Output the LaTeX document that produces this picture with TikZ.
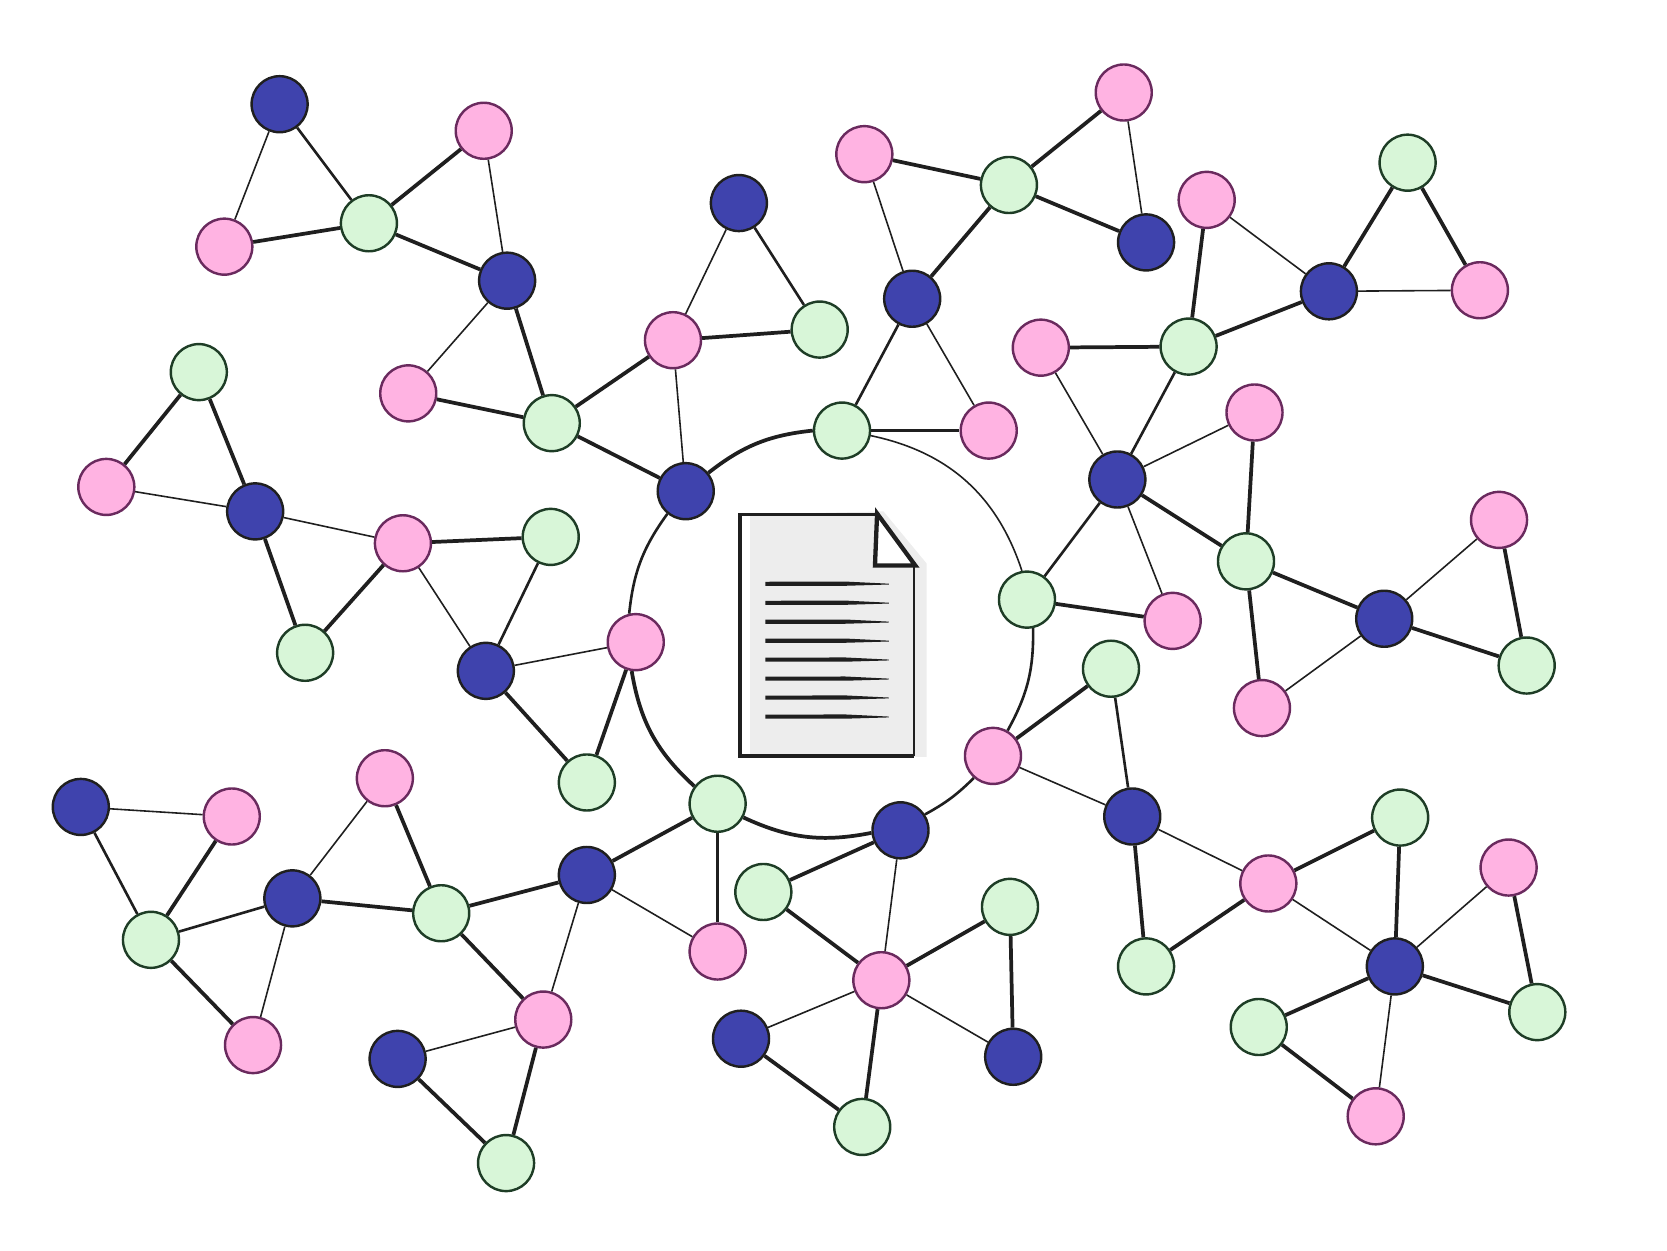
\documentclass[tikz,border=0pt]{standalone}
\definecolor{nodeblue}{HTML}{3F43AD}
\definecolor{nodepink}{HTML}{FFB3E2}
\definecolor{nodegreen}{HTML}{D8F6D8}
\definecolor{rimpink}{HTML}{6A2A5E}
\definecolor{rimgreen}{HTML}{1E3D26}
\definecolor{ink}{HTML}{1F1F1F}
\definecolor{paper}{HTML}{EDEDED}
\tikzset{
	dot/.style={circle,inner sep=0pt,minimum size=30pt,line width=1.3pt},
	blue dot/.style={dot,draw=ink,fill=nodeblue},
	pink dot/.style={dot,draw=rimpink,fill=nodepink},
	green dot/.style={dot,draw=rimgreen,fill=nodegreen},
	fine/.style={draw=ink,line width=0.85pt},
	mid/.style={draw=ink,line width=1.4pt},
	heavy/.style={draw=ink,line width=2pt},
}
\begin{document}
\begin{tikzpicture}[x=0.02cm,y=-0.02cm]
	\useasboundingbox (0,0) rectangle (1568,1176.7);
	% the three kinds of vertices
	\foreach \a/\x/\y in {1/263/98,2/477/264,3/695/191,4/645/462,5/240/481,6/457/631,7/858/281,8/1078/228,9/1250/274,10/1051/451,11/1302/582,12/1065/768,13/847/781,14/1312/909,15/953/994,16/697/977,17/552/823,18/275/845,19/76/759,20/374/996}{
			\node[blue dot] (b\a) at (\x,\y) {};
		}
	\foreach \a/\x/\y in {1/455/123,2/211/232,3/384/370,4/633/320,5/100/458,6/379/511,7/598/604,8/813/145,9/1057/87,10/930/405,11/1135/188,12/1392/273,13/979/327,14/1180/388,15/1103/584,16/1410/489,17/1187/666,18/934/711,19/1193/831,20/1419/816,21/1294/1050,22/829/922,23/675/895,24/362/732,25/218/768,26/238/983,27/511/959}{
			\node[pink dot] (p\a) at (\x,\y) {};
		}
	\foreach \a/\x/\y in {1/347/210,2/519/398,3/771/310,4/187/350,5/518/505,6/287/614,7/552/736,8/949/174,9/792/405,10/1324/153,11/1118/326,12/1172/528,13/966/564,14/1436/626,15/1045/629,16/1078/909,17/1317/769,18/1446/952,19/1184/966,20/675/756,21/718/839,22/950/853,23/811/1060,24/415/859,25/142/884,26/476/1094}{
			\node[green dot] (g\a) at (\x,\y) {};
		}
	% edges
	\foreach \a/\b in {b1/p2,p1/b2,b2/p3,p4/b4,p4/b3,p5/b5,b5/p6,p6/b6,b6/p7,p8/b7,p9/b8,b7/p10,p11/b9,b9/p12,p13/b10,b10/p14,b10/p15,p17/b11,b11/p16,p18/b12,b12/p19,p19/b14,b14/p20,b14/p21,b13/p22,p22/b15,p22/b16,b17/p23,b18/p24,b19/p25,b18/p26,b17/p27,p27/b20}{
			\draw[fine] (\a) -- (\b);
		}
	\foreach \a/\b in {b1/g1,b3/g3,g5/b6,b7/g9,b10/g13,g11/b10,g15/b12,b18/g25,g25/b19}{
			\draw[mid] (\a) -- (\b);
		}
	\foreach \a/\b in {p2/g1,g1/p1,g1/b2,b2/g2,p3/g2,g2/p4,g2/b4,p4/g3,g4/p5,g4/b5,b5/g6,g6/p6,p6/g5,b6/g7,p7/g7,p8/g8,g8/b7,g8/p9,g8/b8,g9/p10,p11/g11,g11/b9,b9/g10,g10/p12,p13/g11,p14/g12,b10/g12,g13/p15,g12/b11,g12/p17,p16/g14,b11/g14,g15/p18,b12/g16,p19/g16,p19/g17,g17/b14,p20/g18,b14/g18,b14/g19,g19/p21,b13/g21,g21/p22,p22/g22,g22/b15,p22/g23,b16/g23,g20/b17,g20/p23,b17/g24,g24/b18,p24/g24,g24/p27,p27/g26,b20/g26,g25/p26,p25/g25}{
			\draw[heavy] (\a) -- (\b);
		}
	% the ring round the page
	\draw[heavy] (b4.39) to[bend left=16] (g9.180);
	\draw[fine] (g9.350) to[bend left=30] (g13.100);
	\draw[mid] (g13.282) to[bend left=15] (p18.60);
	\draw[mid] (p18.229) to[bend left=8] (b13.33);
	\draw[heavy] (b13.185) to[bend left=18] (g20.332);
	\draw[heavy] (g20.143) to[bend left=19] (p7.262);
	\draw[mid] (p7.103) to[bend left=15] (b4.231);
	% the page
	\fill[paper] (705.6,484) -- (831,481) -- (871.6,530) -- (871.6,712) -- (705.6,712) -- cycle;
	\fill[white] (823,484) -- (823,532) -- (861,532) -- cycle;
	\draw[ink,line width=1.8pt] (823,484) -- (696,484) -- (696,711) -- (860,711);
	\draw[ink,line width=1.1pt] (860,711) -- (860,532);
	\draw[ink,line width=2.3pt] (825,483) -- (861,532) -- (823,532) -- cycle;
	\foreach \y in {549,566.9,584.7,602.6,620.4,638.3,656.1,674}{
			\fill[ink] (720,\y-1.8) -- (795,\y-2) -- (836,\y) -- (836,\y+0.8) -- (795,\y+2) -- (720,\y+2) -- cycle;
		}
\end{tikzpicture}
\end{document}
